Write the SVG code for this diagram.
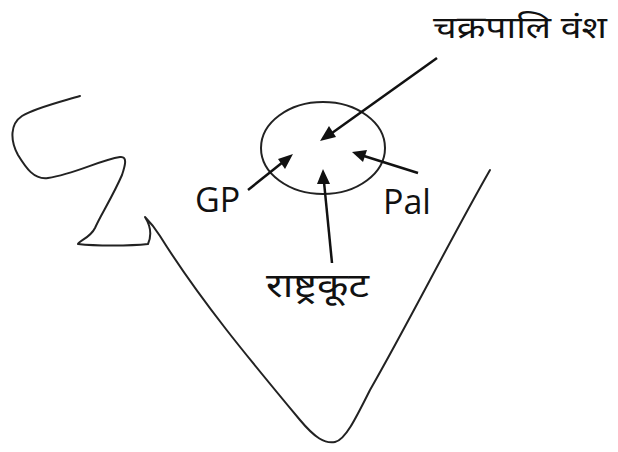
<svg xmlns="http://www.w3.org/2000/svg" width="618" height="452" viewBox="0 0 618 452">
<style>
.ln{fill:none;stroke:#222;stroke-width:2;stroke-linecap:round;stroke-linejoin:round}
.ar{fill:none;stroke:#111;stroke-width:2.5}
.t{font-family:"Open Sans","Noto Sans","Liberation Sans",sans-serif;fill:#111;font-weight:500}
.h{font-family:"Noto Sans","Noto Sans Devanagari","Lohit Devanagari",sans-serif;fill:#111;font-weight:normal}
</style>
<rect width="618" height="452" fill="#fff"/>
<g id="map">
<path class="ln" d="M80,96 C60,102 35,108 22,116 C10,124 10,140 18,155 C26,168 34,180 48,178 C75,174 100,160 120,157 C128,156 125,166 122,175 C112,198 100,216 95,228 C90,238 80,240 78,244 C95,246 130,246 148,244 C152,235 150,225 145,217 C150,222 155,228 160,236 C200,300 250,360 300,420 C315,438 325,444 335,442 C345,440 355,420 370,390 C410,320 450,240 490,170"/>
</g>
<g id="region">
<ellipse class="ln" cx="323" cy="148" rx="62" ry="46"/>
</g>
<g id="connectors">
<line class="ar" x1="437" y1="58" x2="332" y2="133"/>
<path d="M320,141 L329,126 L336,137 Z" fill="#111"/>
<line class="ar" x1="248" y1="190" x2="283" y2="162"/>
<path d="M293,154 L285,169 L278,159 Z" fill="#111"/>
<line class="ar" x1="418" y1="173" x2="364" y2="156"/>
<path d="M352,152 L367,150 L363,162 Z" fill="#111"/>
<line class="ar" x1="332" y1="263" x2="324" y2="182"/>
<path d="M323,169 L330,184 L317,184 Z" fill="#111"/>
</g>
<g id="labels">
<text class="h" x="433" y="38" font-size="31" textLength="174" lengthAdjust="spacingAndGlyphs">चक्रपालि  वंश</text>
<text class="t" x="195" y="212" font-size="34">GP</text>
<text class="t" x="383" y="214" font-size="34">Pal</text>
<text class="h" x="266" y="297" font-size="34" textLength="103" lengthAdjust="spacingAndGlyphs">राष्ट्रकूट</text>
</g>
</svg>
